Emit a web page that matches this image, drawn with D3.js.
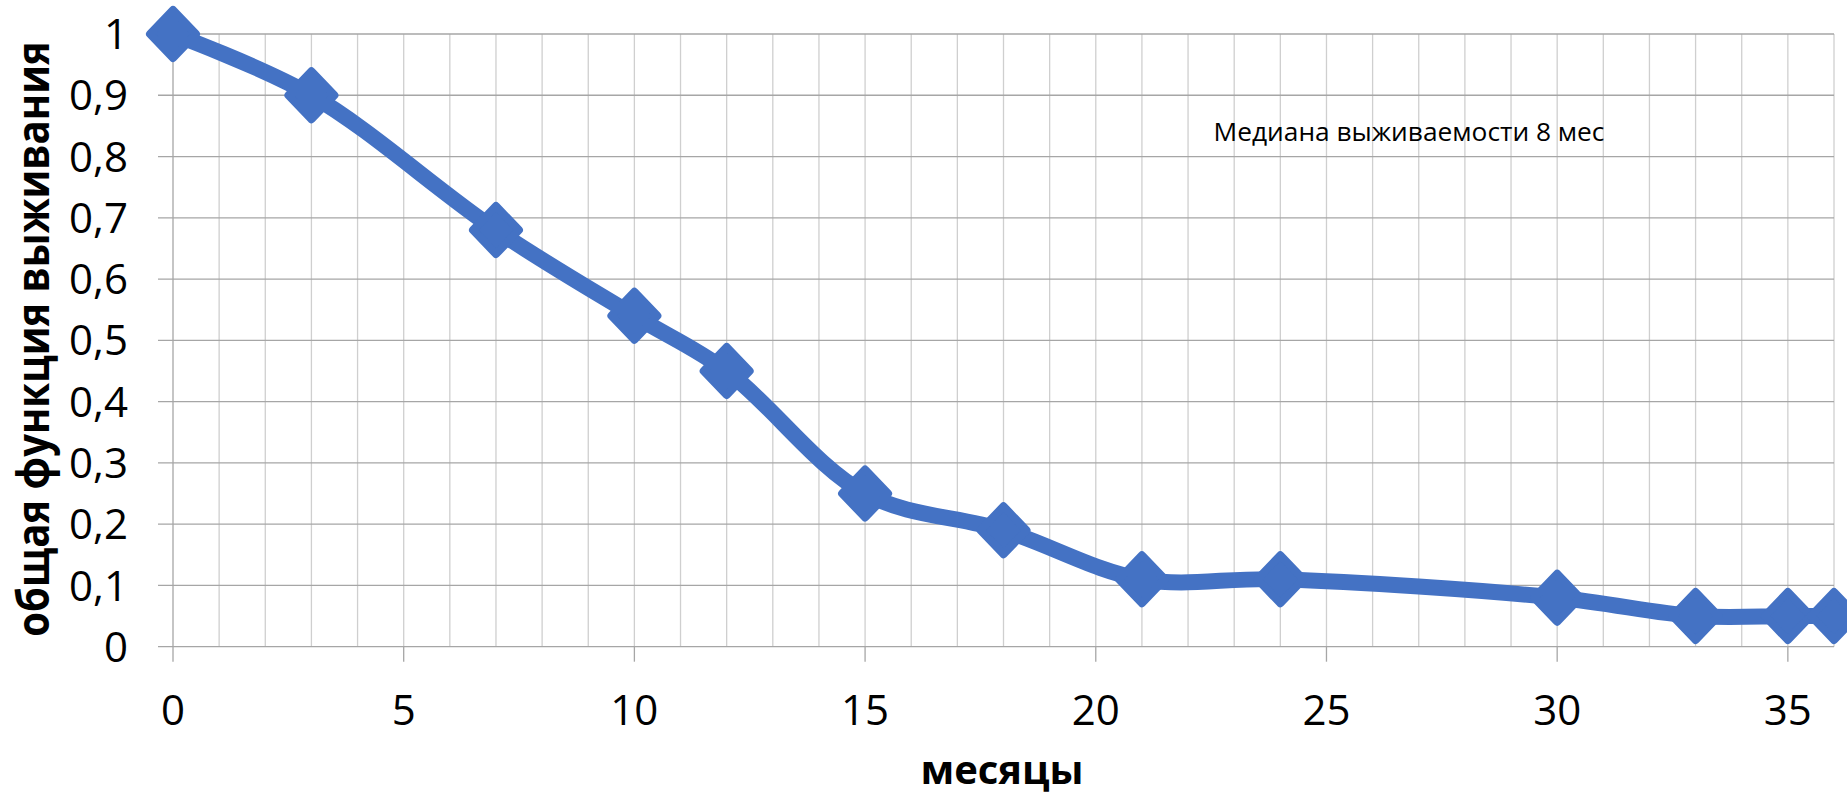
<!DOCTYPE html>
<html>
<head>
<meta charset="utf-8">
<script src="https://cdn.jsdelivr.net/npm/d3@7"></script>
<style>
  html, body { margin: 0; padding: 0; background: #fff; }
  svg { display: block; }
  text { font-family: "Open Sans", "Noto Sans", sans-serif; fill: #000; }
</style>
</head>
<body>
<svg id="chart" width="1847" height="797"></svg>
<script>
// ---- data ----
const months   = [0, 3, 7, 10, 12, 15, 18, 21, 24, 30, 33, 35, 36];
const survival = [1, 0.9, 0.68, 0.54, 0.45, 0.25, 0.19, 0.11, 0.11, 0.08, 0.05, 0.05, 0.05];
const xTicks = [0, 5, 10, 15, 20, 25, 30, 35];
const yTicks = [0, 0.1, 0.2, 0.3, 0.4, 0.5, 0.6, 0.7, 0.8, 0.9, 1];
const xTitle = "месяцы";
const yTitle = "общая функция выживания";
const note = "Медиана выживаемости 8 мес";

(function () {
const svg = d3.select("#chart");
const mLeft = 173, mRight = 1834, mTop = 34, mBottom = 646.7;

const x = d3.scaleLinear().domain([0, 36]).range([mLeft, mRight]);
const y = d3.scaleLinear().domain([0, 1]).range([mBottom, mTop]);

const blue = "#4472C4";

// vertical minor gridlines (every month)
svg.append("g").selectAll("line")
  .data(d3.range(1, 37))
  .join("line")
  .attr("x1", d => x(d)).attr("x2", d => x(d))
  .attr("y1", y(0)).attr("y2", y(1))
  .attr("stroke", "#cfcfcf").attr("stroke-width", 1.3);

// horizontal gridlines with left tick extension
svg.append("g").selectAll("line")
  .data(yTicks)
  .join("line")
  .attr("x1", mLeft - 15).attr("x2", mRight)
  .attr("y1", d => y(d)).attr("y2", d => y(d))
  .attr("stroke", "#a6a6a6").attr("stroke-width", 1.3);

// y axis line
svg.append("line")
  .attr("x1", mLeft).attr("x2", mLeft)
  .attr("y1", y(0)).attr("y2", y(1))
  .attr("stroke", "#a6a6a6").attr("stroke-width", 1.3);

// x ticks (downward)
svg.append("g").selectAll("line")
  .data(xTicks)
  .join("line")
  .attr("x1", d => x(d)).attr("x2", d => x(d))
  .attr("y1", y(0)).attr("y2", y(0) + 15)
  .attr("stroke", "#a6a6a6").attr("stroke-width", 1.3);

// y tick labels
const yFmt = d => d === 0 ? "0" : d === 1 ? "1" : d3.format(".1f")(d).replace(".", ",");
svg.append("g").selectAll("text")
  .data(yTicks)
  .join("text")
  .attr("x", 128)
  .attr("y", d => y(d))
  .attr("dy", "0.36em")
  .attr("text-anchor", "end")
  .attr("font-size", 42)
  .text(yFmt);

// x tick labels
svg.append("g").selectAll("text")
  .data(xTicks)
  .join("text")
  .attr("x", d => x(d))
  .attr("y", 725)
  .attr("text-anchor", "middle")
  .attr("font-size", 42)
  .text(d => d);

// axis titles
svg.append("text")
  .attr("x", 1002).attr("y", 784)
  .attr("text-anchor", "middle")
  .attr("font-size", 40).attr("font-weight", "bold")
  .text(xTitle);

svg.append("text")
  .attr("transform", "translate(49,339) rotate(-90) scale(1,1.1)")
  .attr("text-anchor", "middle")
  .attr("font-size", 40).attr("font-weight", "bold")
  .text(yTitle);

// annotation
svg.append("text")
  .attr("x", 1409).attr("y", 141)
  .attr("text-anchor", "middle")
  .attr("font-size", 26.3)
  .text(note);

// smooth line
const pts = months.map((m, i) => [m, survival[i]]);
const line = d3.line()
  .x(d => x(d[0])).y(d => y(d[1]))
  .curve(d3.curveCatmullRom.alpha(0.5));
svg.append("path")
  .datum(pts)
  .attr("d", line)
  .attr("fill", "none")
  .attr("stroke", blue)
  .attr("stroke-width", 16)
  .attr("stroke-linejoin", "round")
  .attr("stroke-linecap", "round");

// diamond markers
const w = 23, h = 24;
svg.append("g").selectAll("path")
  .data(pts)
  .join("path")
  .attr("transform", d => `translate(${x(d[0])},${y(d[1])})`)
  .attr("d", `M0,${-h}L${w},0L0,${h}L${-w},0Z`)
  .attr("fill", blue)
  .attr("stroke", blue)
  .attr("stroke-width", 8)
  .attr("stroke-linejoin", "round");
})();
</script>
</body>
</html>
